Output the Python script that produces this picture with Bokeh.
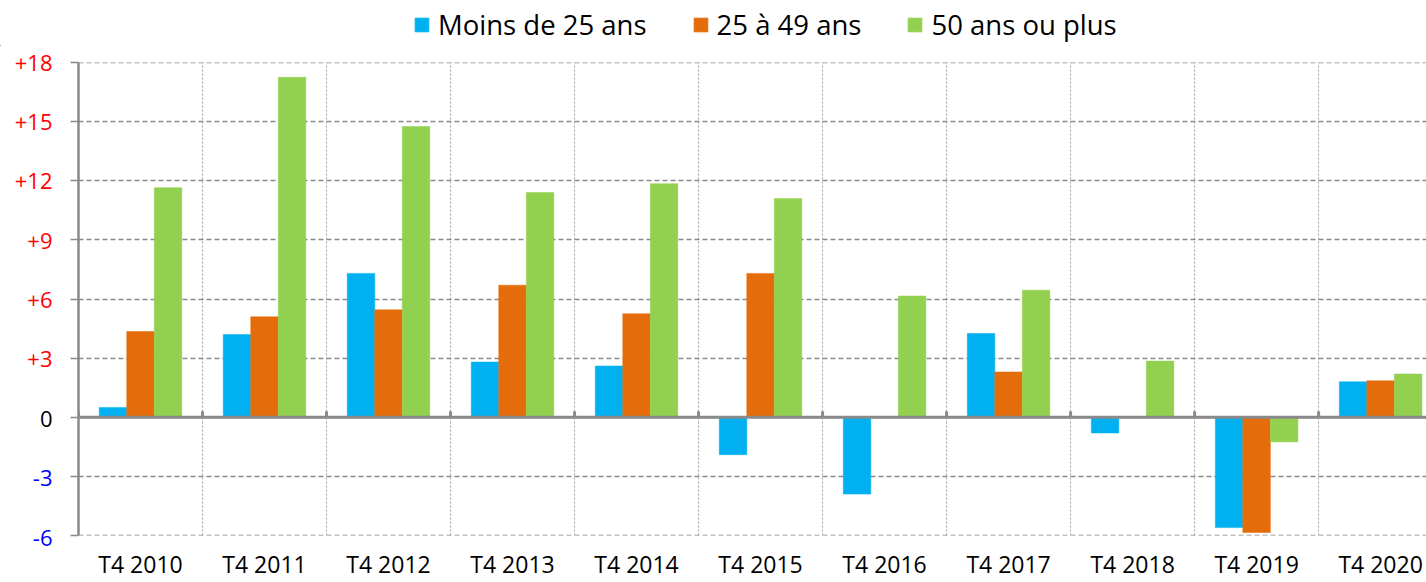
import numpy as np
from bokeh.plotting import figure
from bokeh.layouts import row, column
from bokeh.models import (Range1d, FixedTicker, Span, Legend, LegendItem,
                          ColumnDataSource)
from bokeh.core.properties import value
from bokeh.embed import file_html
from bokeh.resources import INLINE

# ---- data ----
categories = ["T4 2010", "T4 2011", "T4 2012", "T4 2013", "T4 2014", "T4 2015",
              "T4 2016", "T4 2017", "T4 2018", "T4 2019", "T4 2020"]
series_names = ["Moins de 25 ans", "25 à 49 ans", "50 ans ou plus"]
moins_25 = [0.5, 4.2, 7.3, 2.8, 2.6, -1.9, -3.9, 4.25, -0.8, -5.6, 1.8]
de_25_49 = [4.35, 5.1, 5.45, 6.7, 5.25, 7.3, 0.0, 2.3, 0.0, -5.85, 1.85]
plus_50 = [11.65, 17.25, 14.75, 11.4, 11.85, 11.1, 6.15, 6.45, 2.85, -1.25, 2.2]
y_ticks = [-6, -3, 0, 3, 6, 9, 12, 15, 18]
colors = ["#00B0F0", "#E46C0A", "#92D050"]

FONT = "Open Sans"
GRAY = "#8a8a8a"

# layout (pixels)
W, H = 1426, 582
LEG_H = 46          # height of the legend strip on top
LAB_W = 66          # width of the tick-label strip
BORDER_LEFT = 12    # space for outward ticks in main figure
MAIN_H = H - LEG_H
TOP, BOTTOM = 62 - LEG_H, 45
YMIN, YMAX = min(y_ticks), max(y_ticks)

n = len(categories)
centers = np.arange(n) + 0.5
bounds = list(range(n + 1))

# ---------------- main figure ----------------
p = figure(width=W - LAB_W, height=MAIN_H,
           x_range=Range1d(0, 10.87), y_range=Range1d(YMIN, YMAX),
           output_backend="svg", toolbar_location=None,
           min_border_left=BORDER_LEFT, min_border_right=0,
           min_border_top=TOP, min_border_bottom=BOTTOM)
p.frame_align = False
p.outline_line_color = None
p.background_fill_color = "white"
p.border_fill_color = "white"

# grids
p.ygrid.ticker = FixedTicker(ticks=y_ticks)
p.ygrid.grid_line_color = GRAY
p.ygrid.grid_line_dash = "5 3"
p.ygrid.grid_line_width = 1.5
for v in (YMIN, YMAX):
    p.add_layout(Span(location=v, dimension="width", line_color=GRAY,
                      line_dash="5 3", line_width=1.5))
p.xgrid.ticker = FixedTicker(ticks=bounds)
p.xgrid.grid_line_color = "#a0a0a0"
p.xgrid.grid_line_dash = "2 2"
p.xgrid.grid_line_width = 1

# y axis: line and outward ticks only (labels drawn in the strip)
yax = p.yaxis[0]
yax.ticker = FixedTicker(ticks=y_ticks)
yax.axis_line_color = GRAY
yax.axis_line_width = 2.5
yax.major_tick_line_color = GRAY
yax.major_tick_line_width = 1.5
yax.major_tick_out = 8
yax.major_tick_in = 0
yax.minor_tick_line_color = None
yax.major_label_overrides = {v: "" for v in y_ticks}
yax.major_label_standoff = 0

# x axis
xax = p.xaxis[0]
xax.ticker = FixedTicker(ticks=list(centers))
xax.major_label_overrides = {float(c): lab for c, lab in zip(centers, categories)}
xax.axis_line_color = None
xax.major_tick_line_color = None
xax.minor_tick_line_color = None
xax.major_label_text_font = FONT
xax.major_label_text_font_size = "23px"
xax.major_label_text_color = "#000000"
xax.major_label_standoff = 6

# bars
offsets = [-0.222, 0.0, 0.222]
bar_w = 0.222
for vals, col, off in zip([moins_25, de_25_49, plus_50], colors, offsets):
    src = ColumnDataSource(dict(x=centers + off, top=vals))
    p.vbar(x="x", top="top", bottom=0, width=bar_w, source=src,
           fill_color=col, line_color=col, line_width=0.5)

# zero line and its small ticks
p.add_layout(Span(location=0, dimension="width", line_color=GRAY, line_width=3))
p.segment(x0=bounds, y0=[0] * len(bounds), x1=bounds, y1=[0.3] * len(bounds),
          line_color=GRAY, line_width=3)

# ---------------- legend strip (top) ----------------
leg = figure(width=W, height=LEG_H, x_range=Range1d(0, W),
             y_range=Range1d(0, LEG_H), output_backend="svg",
             toolbar_location=None, min_border=0,
             x_axis_type=None, y_axis_type=None)
leg.frame_align = False
leg.outline_line_color = None
leg.xgrid.visible = False
leg.ygrid.visible = False
leg.border_fill_color = "white"
leg_items = []
for nm, col in zip(series_names, colors):
    # legend-only swatch renderer, its single point lies outside the view
    r = leg.vbar(x=[-W], top=[1], width=1, fill_color=col, line_color=col)
    leg_items.append(LegendItem(label=nm, renderers=[r]))
legend = Legend(items=leg_items, orientation="horizontal", location=(413, 3))
legend.label_text_font = FONT
legend.label_text_font_size = "27.5px"
legend.label_text_color = "#000000"
legend.glyph_width = 17
legend.glyph_height = 17
legend.label_standoff = 8
legend.spacing = 45
legend.padding = 0
legend.margin = 0
legend.border_line_color = None
legend.background_fill_alpha = 0
leg.add_layout(legend)

# ---------------- tick-label strip ----------------
frame_h = MAIN_H - TOP - BOTTOM
px_per_unit = frame_h / (YMAX - YMIN)
lab_ymax = YMAX + TOP / px_per_unit
lab_ymin = YMIN - BOTTOM / px_per_unit
lab = figure(width=LAB_W, height=MAIN_H, x_range=Range1d(0, LAB_W),
             y_range=Range1d(lab_ymin, lab_ymax),
             output_backend="svg", toolbar_location=None,
             min_border=0, x_axis_type=None, y_axis_type=None)
lab.frame_align = False
lab.outline_line_color = None
lab.xgrid.visible = False
lab.ygrid.visible = False
lab.border_fill_color = "white"
lab.background_fill_color = "white"

tick_text = []
tick_color = []
for v in y_ticks:
    if v > 0:
        tick_text.append(f"+{v}")
        tick_color.append("#FF0000")
    elif v < 0:
        tick_text.append(f"-{abs(v)}")
        tick_color.append("#0000FF")
    else:
        tick_text.append("0")
        tick_color.append("#000000")
lab_src = ColumnDataSource(dict(x=[52] * len(y_ticks), y=y_ticks,
                                text=tick_text, color=tick_color))
lab.text(x="x", y="y", text="text", text_color="color", source=lab_src,
         text_align="right", text_baseline="middle",
         text_font=value(FONT), text_font_size="22px")

layout = column(leg, row(lab, p))
open("out.html", "w").write(file_html(layout, INLINE))
